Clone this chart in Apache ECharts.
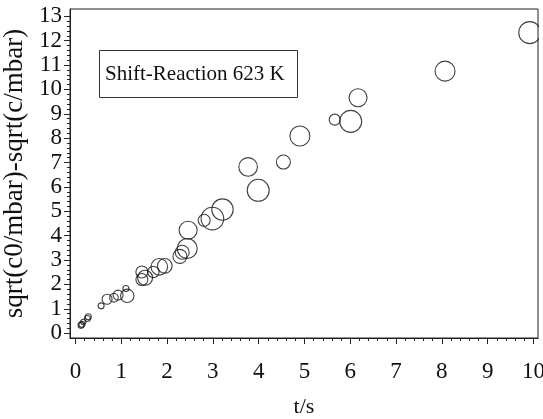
<!DOCTYPE html>
<html>
<head>
<meta charset="utf-8">
<script src="https://cdn.jsdelivr.net/npm/echarts@6/dist/echarts.min.js"></script>
<style>html,body{margin:0;padding:0;background:#fff}#c{width:543px;height:419px}</style>
</head>
<body>
<div id="c"></div>
<script>
// Data
const tValues = [9.92, 8.07, 6.17, 6.01, 5.66, 4.90, 4.54, 3.77, 3.99, 3.21, 2.99, 2.81, 2.46, 2.44, 2.33, 2.28, 1.95, 1.83, 1.70, 1.52, 1.45, 1.45, 1.13, 1.10, 0.93, 0.84, 0.69, 0.56, 0.28, 0.26, 0.17, 0.14, 0.12];
const yValues = [12.33, 10.75, 9.66, 8.69, 8.76, 8.09, 7.02, 6.82, 5.86, 5.07, 4.70, 4.63, 4.22, 3.47, 3.32, 3.15, 2.76, 2.72, 2.51, 2.27, 2.51, 2.20, 1.53, 1.83, 1.56, 1.45, 1.39, 1.12, 0.67, 0.60, 0.46, 0.36, 0.32];
const weights = [11, 10, 9, 11, 5.5, 10, 7, 9.3, 11, 10.7, 11.3, 6, 9, 10, 7, 7, 7.3, 8.3, 5.7, 7.5, 6, 6, 6.7, 3, 5, 4.3, 5, 3, 3, 3, 2.7, 3, 3];
const xTicks = [0, 1, 2, 3, 4, 5, 6, 7, 8, 9, 10];
const yTicks = [0, 1, 2, 3, 4, 5, 6, 7, 8, 9, 10, 11, 12, 13];
const xMinor = [];
for (let i = 0; i < 10; i++) for (let k = 1; k < 5; k++) xMinor.push(+(i + k * 0.2).toFixed(2));
const yMinor = [];
for (let i = 0; i < 13; i++) for (let k = 1; k < 5; k++) yMinor.push(+(i + k * 0.2).toFixed(2));
const titleText = 'Shift-Reaction 623 K';

const FONT = '"Liberation Serif", "Times New Roman", serif';
const chart = echarts.init(document.getElementById('c'), null, {renderer: 'canvas'});
const data = tValues.map((t, i) => [t, yValues[i], weights[i]]);

const xBase = {type: 'value', min: -0.12, max: 10.1, splitLine: {show: false}};
const yBase = {type: 'value', min: -0.2, max: 13.3, splitLine: {show: false}};

chart.setOption({
  animation: false,
  grid: {left: 70, top: 9, right: 5, bottom: 81, outerBoundsMode: 'none', containLabel: false, show: true, borderColor: '#222', borderWidth: 1, backgroundColor: 'transparent'},
  xAxis: [
    Object.assign({}, xBase, {
      position: 'bottom',
      name: 't/s', nameLocation: 'middle', nameGap: 58,
      nameTextStyle: {fontFamily: FONT, fontSize: 22, color: '#111'},
      axisLine: {show: true, onZero: false, lineStyle: {color: '#222', width: 1}},
      axisTick: {show: true, length: 6, customValues: xTicks, lineStyle: {color: '#222'}},
      axisLabel: {show: true, margin: 22, customValues: xTicks, fontFamily: FONT, fontSize: 23, color: '#111'}
    }),
    Object.assign({}, xBase, {
      position: 'bottom',
      axisLine: {show: false, onZero: false},
      axisTick: {show: true, length: 3, customValues: xMinor, lineStyle: {color: '#222'}},
      axisLabel: {show: false}
    })
  ],
  yAxis: [
    Object.assign({}, yBase, {
      position: 'left',
      name: 'sqrt(c0/mbar)-sqrt(c/mbar)', nameLocation: 'middle', nameGap: 38,
      nameTextStyle: {fontFamily: FONT, fontSize: 27, color: '#111'},
      axisLine: {show: true, onZero: false, lineStyle: {color: '#222', width: 1}},
      axisTick: {show: true, length: 6, customValues: yTicks, lineStyle: {color: '#222'}},
      axisLabel: {show: true, margin: 8, customValues: yTicks, fontFamily: FONT, fontSize: 23, color: '#111'}
    }),
    Object.assign({}, yBase, {
      position: 'left',
      axisLine: {show: false, onZero: false},
      axisTick: {show: true, length: 3, customValues: yMinor, lineStyle: {color: '#222'}},
      axisLabel: {show: false}
    })
  ],
  series: [{
    type: 'scatter',
    xAxisIndex: 0, yAxisIndex: 0,
    data: data,
    symbol: 'circle',
    symbolSize: function (v) { return v[2] * 2; },
    itemStyle: {color: 'rgba(0,0,0,0)', borderColor: '#111', borderWidth: 1.1},
    clip: true
  }],
  graphic: [
    {type: 'rect', left: 539, top: 0, shape: {width: 10, height: 338}, style: {fill: '#fff'}, z: 100},
    {type: 'rect', shape: {x: 99.5, y: 50.5, width: 198, height: 47}, style: {fill: 'rgba(0,0,0,0)', stroke: '#333', lineWidth: 1}, z: 101},
    {type: 'text', x: 105, y: 74, style: {text: titleText, font: '21px ' + FONT, fill: '#111', textVerticalAlign: 'middle', verticalAlign: 'middle'}, z: 102}
  ]
});
</script>
</body>
</html>
